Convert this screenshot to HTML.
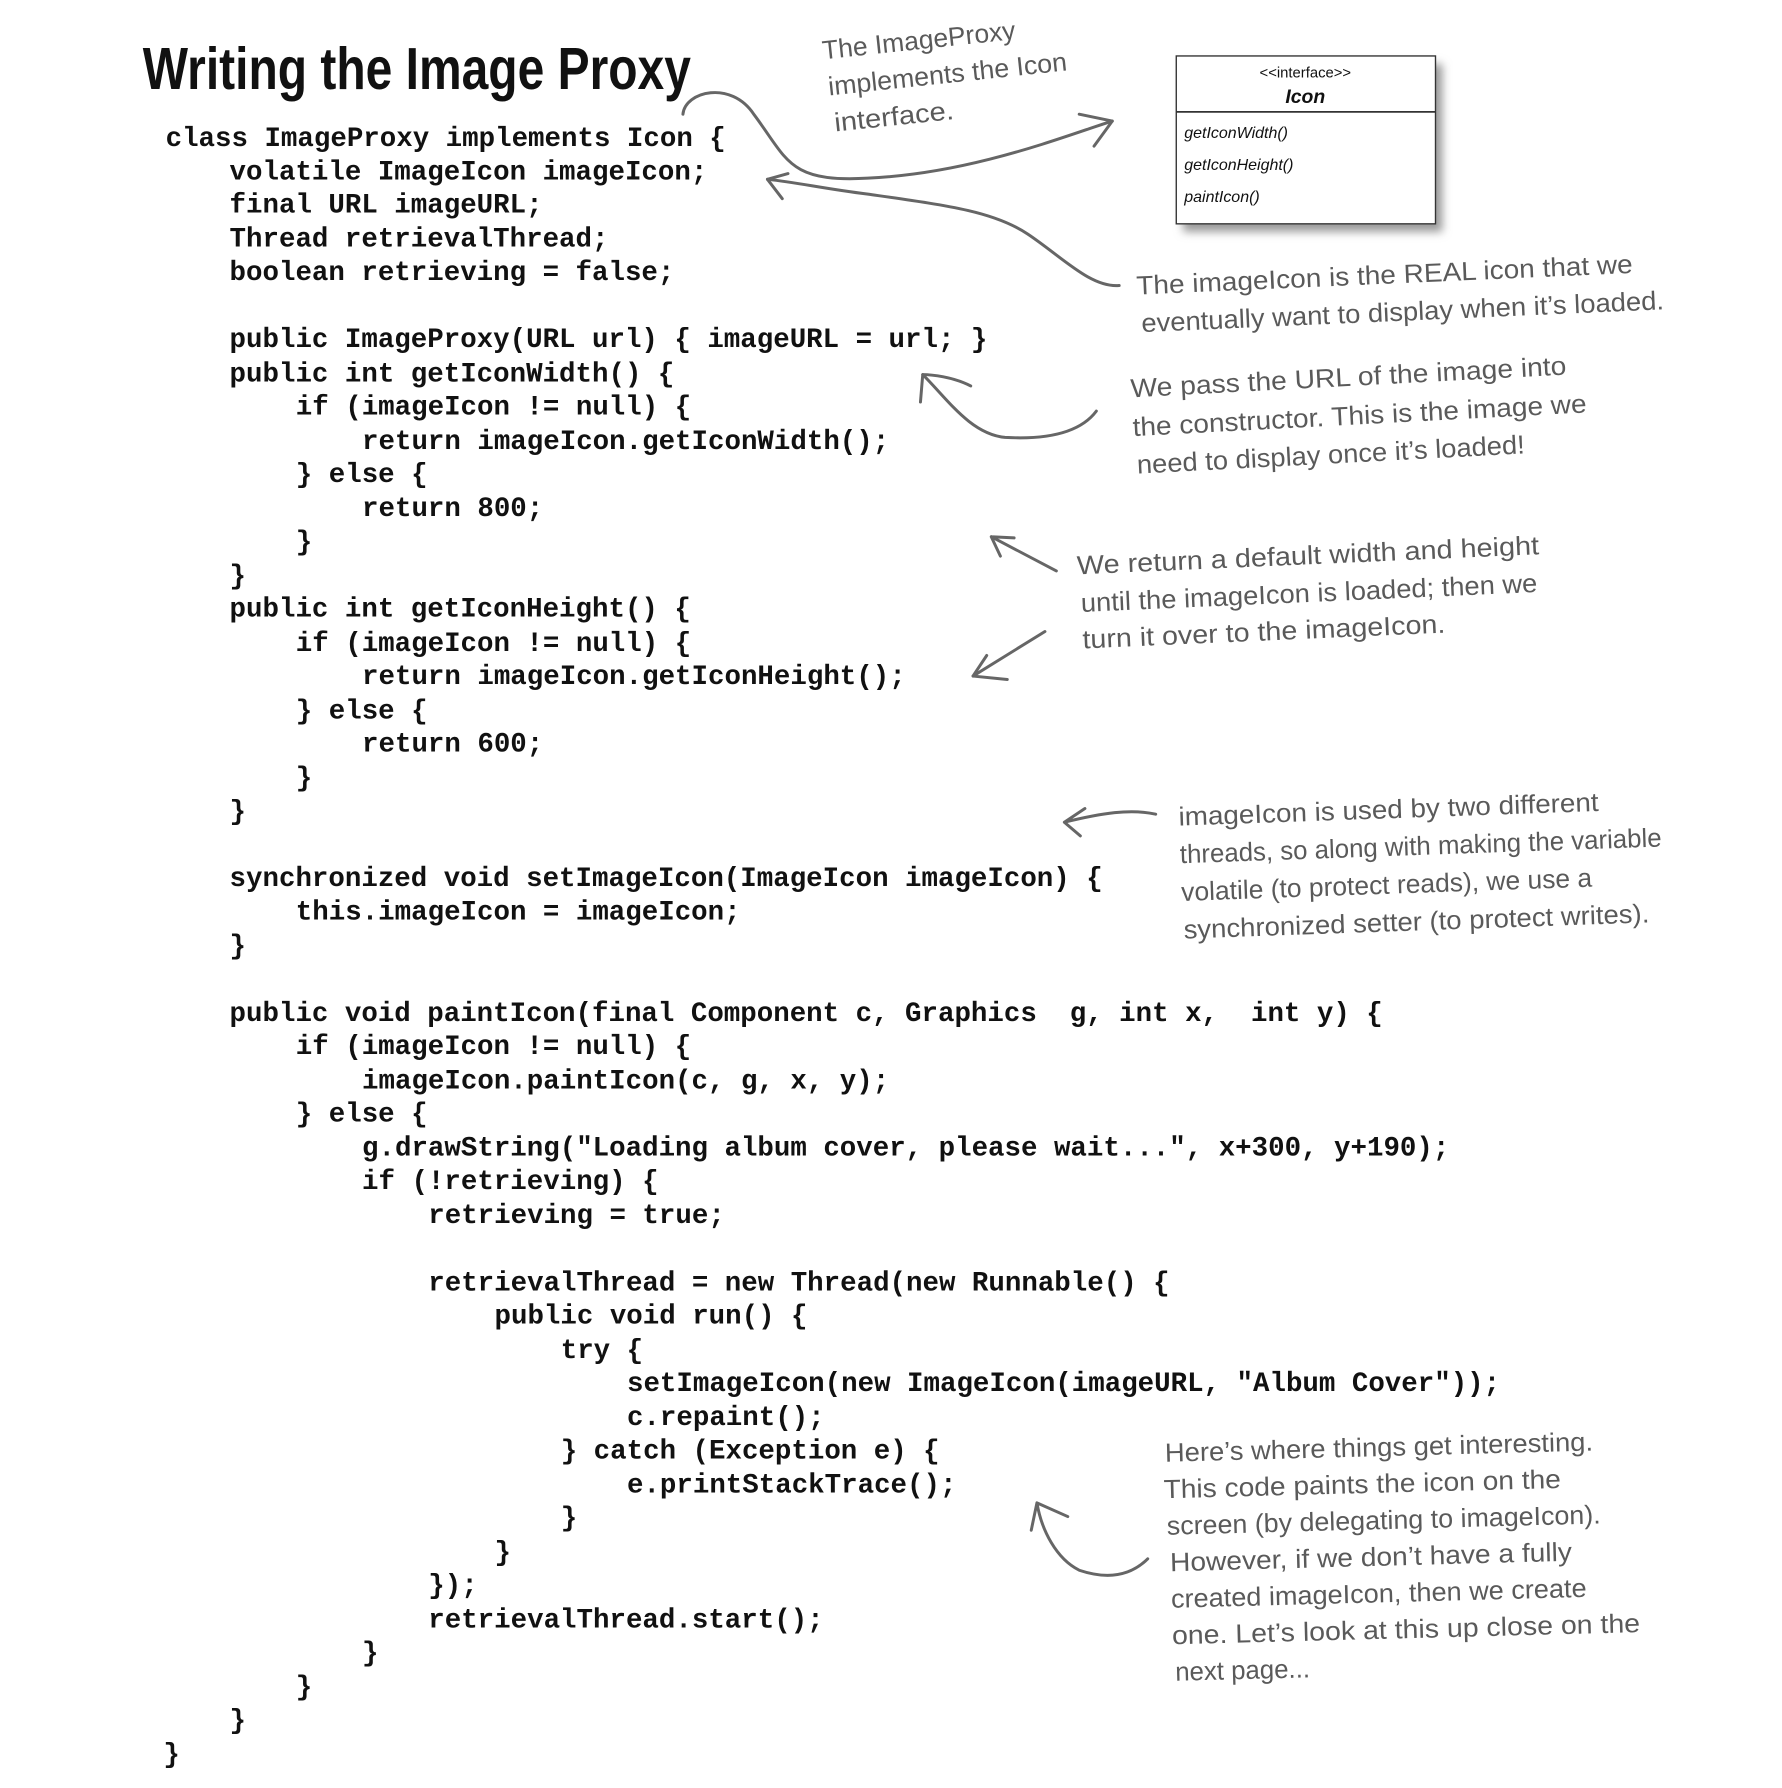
<!DOCTYPE html>
<html><head><meta charset="utf-8">
<style>
html,body{margin:0;padding:0;background:#fff;}
svg{display:block;}
.code{font-family:"Liberation Mono",monospace;font-weight:bold;font-size:24.05px;fill:#111;}
.note{font-family:"Liberation Sans",sans-serif;font-size:23px;fill:#5a5a5a;}
.arr{fill:none;stroke:#666;stroke-width:2.6;stroke-linecap:round;stroke-linejoin:round;}
</style></head><body>
<svg width="1782" height="1788" viewBox="0 0 1560.4 1565.7" xmlns="http://www.w3.org/2000/svg">
<defs>
<filter id="sh" x="-20%" y="-20%" width="150%" height="150%"><feGaussianBlur stdDeviation="4"/></filter>
</defs>
<text x="125" y="78" font-family="Liberation Sans, sans-serif" font-weight="bold" font-size="52" fill="#111" textLength="480" lengthAdjust="spacingAndGlyphs">Writing the Image Proxy</text>

<rect x="1036" y="56" width="227" height="147" fill="#999" filter="url(#sh)"/>
<rect x="1030" y="49" width="227" height="147" fill="#fff" stroke="#333" stroke-width="1.2"/>
<line x1="1030" y1="98" x2="1257" y2="98" stroke="#333" stroke-width="1.5"/>
<text x="1143" y="68" text-anchor="middle" font-family="Liberation Sans, sans-serif" font-size="13" fill="#111">&lt;&lt;interface&gt;&gt;</text>
<text x="1143" y="90" text-anchor="middle" font-family="Liberation Sans, sans-serif" font-size="17" font-style="italic" font-weight="bold" fill="#111">Icon</text>
<g font-family="Liberation Sans, sans-serif" font-size="14" font-style="italic" fill="#111">
<text x="1037" y="121">getIconWidth()</text>
<text x="1037" y="149">getIconHeight()</text>
<text x="1037" y="177">paintIcon()</text>
</g>

<g class="code">
<text x="145" y="128">class ImageProxy implements Icon {</text>
<text x="201" y="157">volatile ImageIcon imageIcon;</text>
<text x="201" y="186">final URL imageURL;</text>
<text x="201" y="216">Thread retrievalThread;</text>
<text x="201" y="245">boolean retrieving = false;</text>
<text x="201" y="304">public ImageProxy(URL url) { imageURL = url; }</text>
<text x="201" y="334">public int getIconWidth() {</text>
<text x="259" y="363">if (imageIcon != null) {</text>
<text x="317" y="393">return imageIcon.getIconWidth();</text>
<text x="259" y="422">} else {</text>
<text x="317" y="452">return 800;</text>
<text x="259" y="481">}</text>
<text x="201" y="511">}</text>
<text x="201" y="540">public int getIconHeight() {</text>
<text x="259" y="570">if (imageIcon != null) {</text>
<text x="317" y="599">return imageIcon.getIconHeight();</text>
<text x="259" y="629">} else {</text>
<text x="317" y="658">return 600;</text>
<text x="259" y="688">}</text>
<text x="201" y="717">}</text>
<text x="201" y="776">synchronized void setImageIcon(ImageIcon imageIcon) {</text>
<text x="259" y="805">this.imageIcon = imageIcon;</text>
<text x="201" y="835">}</text>
<text x="201" y="894" xml:space="preserve">public void paintIcon(final Component c, Graphics  g, int x,  int y) {</text>
<text x="259" y="923">if (imageIcon != null) {</text>
<text x="317" y="953">imageIcon.paintIcon(c, g, x, y);</text>
<text x="259" y="982">} else {</text>
<text x="317" y="1012">g.drawString("Loading album cover, please wait...", x+300, y+190);</text>
<text x="317" y="1041">if (!retrieving) {</text>
<text x="375" y="1071">retrieving = true;</text>
<text x="375" y="1130">retrievalThread = new Thread(new Runnable() {</text>
<text x="433" y="1159">public void run() {</text>
<text x="491" y="1189">try {</text>
<text x="549" y="1218">setImageIcon(new ImageIcon(imageURL, "Album Cover"));</text>
<text x="549" y="1248">c.repaint();</text>
<text x="491" y="1277">} catch (Exception e) {</text>
<text x="549" y="1307">e.printStackTrace();</text>
<text x="491" y="1336">}</text>
<text x="433" y="1366">}</text>
<text x="375" y="1395">});</text>
<text x="375" y="1425">retrievalThread.start();</text>
<text x="317" y="1454">}</text>
<text x="259" y="1484">}</text>
<text x="201" y="1513">}</text>
<text x="143" y="1543">}</text>
</g>

<g class="note">
<g transform="rotate(-6 720 45)">
<text x="720" y="52" textLength="170" lengthAdjust="spacingAndGlyphs">The ImageProxy</text>
<text x="722" y="84" textLength="210" lengthAdjust="spacingAndGlyphs">implements the Icon</text>
<text x="724" y="116" textLength="105" lengthAdjust="spacingAndGlyphs">interface.</text>
</g>
<g transform="rotate(-2.5 995 250)">
<text x="995" y="258" textLength="435" lengthAdjust="spacingAndGlyphs">The imageIcon is the REAL icon that we</text>
<text x="998" y="291" textLength="458" lengthAdjust="spacingAndGlyphs">eventually want to display when it’s loaded.</text>
</g>
<g transform="rotate(-3 990 340)">
<text x="990" y="348" textLength="382" lengthAdjust="spacingAndGlyphs">We pass the URL of the image into</text>
<text x="990" y="382" textLength="398" lengthAdjust="spacingAndGlyphs">the constructor. This is the image we</text>
<text x="992" y="415" textLength="340" lengthAdjust="spacingAndGlyphs">need to display once it’s loaded!</text>
</g>
<g transform="rotate(-2.5 943 495)">
<text x="943" y="503" textLength="405" lengthAdjust="spacingAndGlyphs">We return a default width and height</text>
<text x="945" y="536" textLength="400" lengthAdjust="spacingAndGlyphs">until the imageIcon is loaded; then we</text>
<text x="945" y="568" textLength="318" lengthAdjust="spacingAndGlyphs">turn it over to the imageIcon.</text>
</g>
<g transform="rotate(-2 1032 715)">
<text x="1032" y="723" textLength="368" lengthAdjust="spacingAndGlyphs">imageIcon is used by two different</text>
<text x="1032" y="756" textLength="422" lengthAdjust="spacingAndGlyphs">threads, so along with making the variable</text>
<text x="1032" y="789" textLength="360" lengthAdjust="spacingAndGlyphs">volatile (to protect reads), we use a</text>
<text x="1033" y="822" textLength="408" lengthAdjust="spacingAndGlyphs">synchronized setter (to protect writes).</text>
</g>
<g transform="rotate(-1.5 1020 1270)">
<text x="1020" y="1280" textLength="375" lengthAdjust="spacingAndGlyphs">Here’s where things get interesting.</text>
<text x="1018" y="1312" textLength="348" lengthAdjust="spacingAndGlyphs">This code paints the icon on the</text>
<text x="1020" y="1344" textLength="380" lengthAdjust="spacingAndGlyphs">screen (by delegating to imageIcon).</text>
<text x="1022" y="1376" textLength="352" lengthAdjust="spacingAndGlyphs">However, if we don’t have a fully</text>
<text x="1022" y="1408" textLength="364" lengthAdjust="spacingAndGlyphs">created imageIcon, then we create</text>
<text x="1022" y="1440" textLength="410" lengthAdjust="spacingAndGlyphs">one. Let’s look at this up close on the</text>
<text x="1024" y="1472" textLength="118" lengthAdjust="spacingAndGlyphs">next page...</text>
</g>
</g>

<g class="arr">
<path d="M598,100 C600,80 640,70 660,100 C690,140 690,160 760,156 C850,152 930,120 974,106"/>
<path d="M945,100 L974,106 L958,128"/>
<path d="M980,250 C955,252 930,225 900,205 C870,185 830,180 760,170 C720,165 700,160 672,157"/>
<path d="M690,152 L672,157 L685,174"/>
<path d="M960,360 C945,380 915,385 880,383 C850,380 830,350 808,328"/>
<path d="M850,338 C835,330 815,328 808,328 L806,352"/>
<path d="M925,500 L868,470 M868,470 L888,471 M868,470 L876,487"/>
<path d="M915,553 L852,592 M852,592 L882,595 M852,592 L864,574"/>
<path d="M1012,713 C990,708 965,712 932,720 M932,720 L950,708 M932,720 L946,732"/>
<path d="M1005,1365 C985,1385 960,1380 945,1375 C925,1365 912,1340 908,1316 M908,1316 L903,1340 M908,1316 L935,1328"/>
</g>
</svg>
</body></html>
